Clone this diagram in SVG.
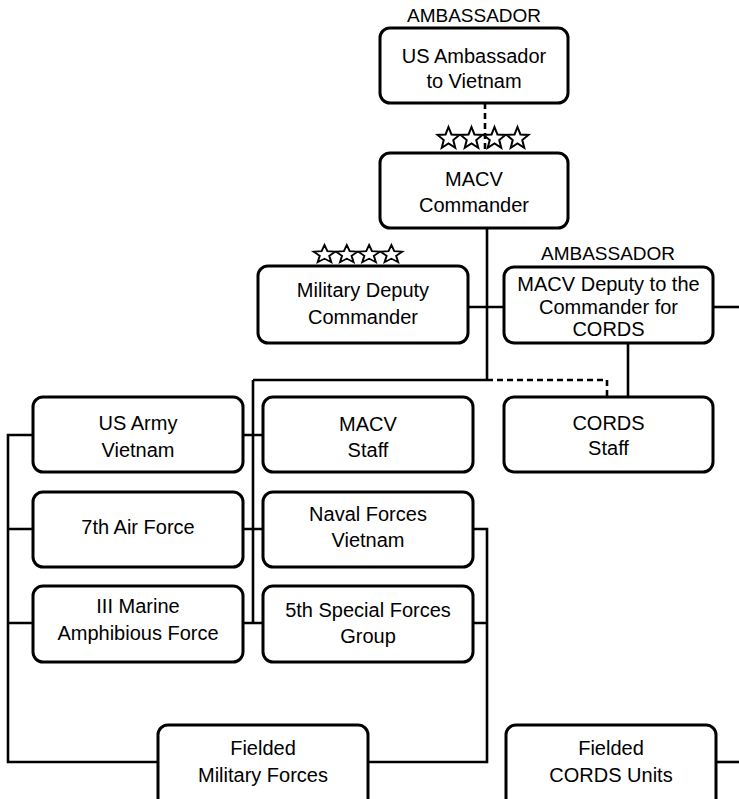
<svg xmlns="http://www.w3.org/2000/svg" xmlns:xlink="http://www.w3.org/1999/xlink" width="739" height="799" viewBox="0 0 739 799">
<style>
.box{fill:#fff;stroke:#000;stroke-width:3}
.ln{fill:none;stroke:#000;stroke-width:2.6}
.dash{fill:none;stroke:#000;stroke-width:2.6;stroke-dasharray:6 4}
.t{font-family:"Liberation Sans",Arial,sans-serif;font-size:20px;fill:#000;text-anchor:middle}
.lab{font-family:"Liberation Sans",Arial,sans-serif;font-size:19px;fill:#000;text-anchor:middle}
.star{fill:#fff;stroke:#000;stroke-width:2;stroke-linejoin:miter}
</style>
<defs>
<polygon id="star" class="star" points="0,-11.5 2.94,-4.05 10.94,-3.55 4.76,1.55 6.76,9.3 0,5 -6.76,9.3 -4.76,1.55 -10.94,-3.55 -2.94,-4.05"/>
</defs>
<rect width="739" height="799" fill="#fff"/>
<g id="connectors">
<path class="dash" d="M485,103 V153"/>
<path class="ln" d="M487,228 V380"/>
<path class="ln" d="M468,307 H504"/>
<path class="ln" d="M713,307 H739"/>
<path class="ln" d="M253,380 H487"/>
<path class="dash" d="M487,380 H607 V397"/>
<path class="ln" d="M628,343 V397"/>
<path class="ln" d="M253,380 V623"/>
<path class="ln" d="M243,435 H263 M243,529 H263 M243,623 H263"/>
<path class="ln" d="M33,435 H8 V762 H158 M8,529 H33 M8,623 H33"/>
<path class="ln" d="M473,529 H487 V762 H368 M473,623 H487"/>
<path class="ln" d="M716,762 H739"/>
</g>
<g id="stars-commander">
<use xlink:href="#star" href="#star" x="448.5" y="138.5"/>
<use xlink:href="#star" href="#star" x="471.5" y="138.5"/>
<use xlink:href="#star" href="#star" x="494.5" y="138.5"/>
<use xlink:href="#star" href="#star" x="517.5" y="138.5"/>
</g>
<g id="stars-deputy" transform="translate(0,254.5) scale(1,0.82)">
<use xlink:href="#star" href="#star" x="324.5" y="0"/>
<use xlink:href="#star" href="#star" x="346.8" y="0"/>
<use xlink:href="#star" href="#star" x="369.1" y="0"/>
<use xlink:href="#star" href="#star" x="391.4" y="0"/>
</g>
<g id="ambassador">
<text class="lab" x="474" y="22">AMBASSADOR</text>
<rect class="box" x="380" y="28" width="188" height="75" rx="10"/>
<text class="t" x="474" y="63">US Ambassador</text>
<text class="t" x="474" y="88">to Vietnam</text>
</g>
<g id="commander">
<rect class="box" x="380" y="153" width="188" height="75" rx="10"/>
<text class="t" x="474" y="186">MACV</text>
<text class="t" x="474" y="212">Commander</text>
</g>
<g id="military-deputy">
<rect class="box" x="258" y="266" width="210" height="77" rx="10"/>
<text class="t" x="363" y="297">Military Deputy</text>
<text class="t" x="363" y="324">Commander</text>
</g>
<g id="cords-deputy">
<text class="lab" x="608" y="260">AMBASSADOR</text>
<rect class="box" x="504" y="267" width="209" height="76" rx="10"/>
<text class="t" x="608.5" y="291">MACV Deputy to the</text>
<text class="t" x="608.5" y="314">Commander for</text>
<text class="t" x="608.5" y="336">CORDS</text>
</g>
<g id="us-army">
<rect class="box" x="33" y="397" width="210" height="75" rx="10"/>
<text class="t" x="138" y="430">US Army</text>
<text class="t" x="138" y="457">Vietnam</text>
</g>
<g id="macv-staff">
<rect class="box" x="263" y="397" width="210" height="75" rx="10"/>
<text class="t" x="368" y="431">MACV</text>
<text class="t" x="368" y="457">Staff</text>
</g>
<g id="cords-staff">
<rect class="box" x="504" y="397" width="209" height="75" rx="10"/>
<text class="t" x="608.5" y="430">CORDS</text>
<text class="t" x="608.5" y="455">Staff</text>
</g>
<g id="air-force">
<rect class="box" x="33" y="492" width="210" height="75" rx="10"/>
<text class="t" x="138" y="534">7th Air Force</text>
</g>
<g id="naval-forces">
<rect class="box" x="263" y="492" width="210" height="75" rx="10"/>
<text class="t" x="368" y="521">Naval Forces</text>
<text class="t" x="368" y="547">Vietnam</text>
</g>
<g id="marine">
<rect class="box" x="33" y="586" width="210" height="76" rx="10"/>
<text class="t" x="138" y="613">III Marine</text>
<text class="t" x="138" y="640">Amphibious Force</text>
</g>
<g id="special-forces">
<rect class="box" x="263" y="586" width="210" height="76" rx="10"/>
<text class="t" x="368" y="617">5th Special Forces</text>
<text class="t" x="368" y="643">Group</text>
</g>
<g id="fielded-military">
<rect class="box" x="158" y="725" width="210" height="90" rx="10"/>
<text class="t" x="263" y="755">Fielded</text>
<text class="t" x="263" y="782">Military Forces</text>
</g>
<g id="fielded-cords">
<rect class="box" x="506" y="725" width="210" height="90" rx="10"/>
<text class="t" x="611" y="755">Fielded</text>
<text class="t" x="611" y="782">CORDS Units</text>
</g>
</svg>
